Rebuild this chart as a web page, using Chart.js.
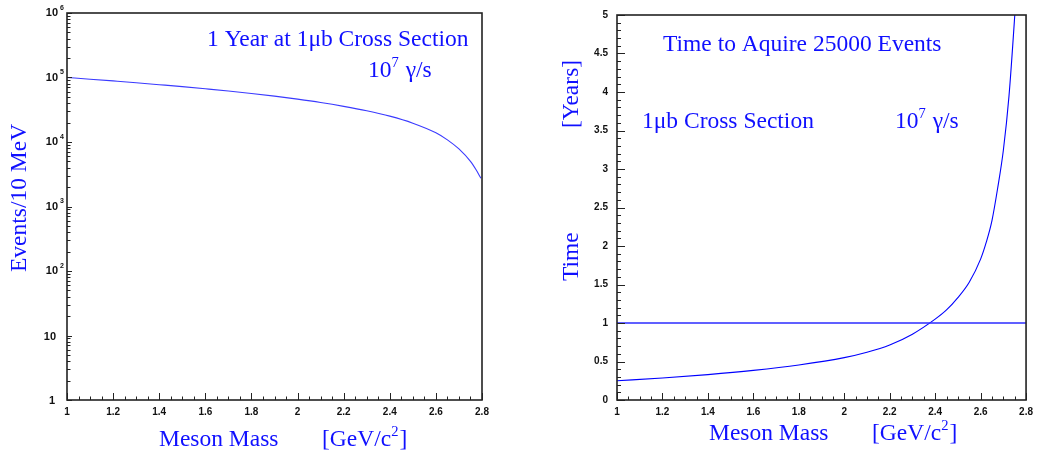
<!DOCTYPE html>
<html>
<head>
<meta charset="utf-8">
<script src="https://cdn.jsdelivr.net/npm/chart.js@4/dist/chart.umd.min.js"></script>
<style>
  html, body { margin: 0; padding: 0; background: #fff; }
  #wrap { position: relative; width: 1039px; height: 453px; }
  .pane { position: absolute; top: 0; width: 519px; height: 453px; }
</style>
</head>
<body>
<div id="wrap">
  <div class="pane" style="left:0"><canvas id="left"></canvas></div>
  <div class="pane" style="left:520px"><canvas id="right"></canvas></div>
</div>
<script>
"use strict";

// ── data ────────────────────────────────────
const massA  = [1.0, 1.1, 1.2, 1.3, 1.4, 1.5, 1.6, 1.7, 1.8, 1.9, 2.0, 2.1, 2.2, 2.3, 2.4, 2.5, 2.6, 2.65, 2.7, 2.75, 2.775, 2.795];
const events = [100000, 94200, 88500, 83000, 77400, 72100, 66800, 61700, 56500, 51400, 46200, 41000, 35700, 30500, 25200, 19600, 13900, 10800, 7800, 5000, 3670, 2750];

const massB = [1.0, 1.2, 1.4, 1.6, 1.8, 2.0, 2.1, 2.2, 2.3, 2.4, 2.45, 2.5, 2.55, 2.6, 2.625, 2.65, 2.675, 2.7, 2.725, 2.75, 2.76];
const years = [0.25, 0.285, 0.33, 0.385, 0.455, 0.55, 0.62, 0.715, 0.855, 1.05, 1.17, 1.33, 1.53, 1.83, 2.05, 2.33, 2.75, 3.24, 3.95, 4.98, 5.45];

const oneYearX = [1.0, 2.8];
const oneYearY = [1, 1];

const xTicks     = [1, 1.2, 1.4, 1.6, 1.8, 2, 2.2, 2.4, 2.6, 2.8];
const yTicksTime = [0, 0.5, 1, 1.5, 2, 2.5, 3, 3.5, 4, 4.5, 5];
const decades    = [0, 1, 2, 3, 4, 5, 6];

const BLUE  = "#1010ff";
const SERIF = "'Liberation Serif', 'DejaVu Serif', serif";
const SANS  = "'Liberation Sans', Arial, sans-serif";

function pts(xs, ys) {
  return xs.map((x, i) => ({ x: x, y: ys[i] }));
}

// text with superscripts: parts = [[text, isSup], ...]
function rich(ctx, parts, x, y, size) {
  let cx = x;
  parts.forEach(([t, sup]) => {
    const s = sup ? size * 0.62 : size;
    ctx.font = s + "px " + SERIF;
    ctx.fillText(t, cx, sup ? y - size * 0.42 : y);
    cx += ctx.measureText(t).width + (sup ? 1 : 0);
  });
  return cx - x;
}

// ── frame, inward ticks, labels ─────────────
const decor = {
  id: "decor",
  afterDraw(chart, args, o) {
    const ctx = chart.ctx, a = chart.chartArea;
    const sx = chart.scales.x, sy = chart.scales.y;
    ctx.save();

    ctx.strokeStyle = "#222";
    ctx.lineWidth = 1;
    ctx.beginPath();
    // x ticks (major 0.2, minor 0.05)
    for (let i = 0; i <= 36; i++) {
      const px = Math.round(sx.getPixelForValue(1 + i * 0.05)) + 0.5;
      const len = i % 4 === 0 ? 7 : 3.5;
      ctx.moveTo(px, a.bottom);
      ctx.lineTo(px, a.bottom - len);
    }
    // y ticks
    if (o.log) {
      decades.forEach((d) => {
        for (let m = 1; m <= 9; m++) {
          const v = m * Math.pow(10, d);
          if (v > 1e6) break;
          const py = Math.round(sy.getPixelForValue(v)) + 0.5;
          ctx.moveTo(a.left, py);
          ctx.lineTo(a.left + (m === 1 ? 5 : 3.5), py);
        }
      });
    } else {
      for (let i = 0; i <= 50; i++) {
        const py = Math.round(sy.getPixelForValue(i * 0.1)) + 0.5;
        ctx.moveTo(a.left, py);
        ctx.lineTo(a.left + (i % 5 === 0 ? 8 : 4), py);
      }
    }
    ctx.stroke();

    ctx.lineWidth = 1.6;
    ctx.strokeRect(a.left, a.top, a.right - a.left, a.bottom - a.top);

    // log labels with exponents
    if (o.log) {
      ctx.fillStyle = "#111";
      ctx.textBaseline = "middle";
      decades.forEach((d) => {
        const py = sy.getPixelForValue(Math.pow(10, d));
        ctx.font = "bold 11px " + SANS;
        ctx.textAlign = "right";
        if (d === 0) {
          ctx.fillText("1", a.left - 12, py + 1);
        } else if (d === 1) {
          ctx.fillText("10", a.left - 11, py + 1);
        } else {
          ctx.fillText("10", a.left - 9, py);
          ctx.textAlign = "left";
          ctx.font = "bold 7px " + SANS;
          ctx.fillText(String(d), a.left - 7, py - 5);
        }
      });
    }

    // annotations
    ctx.fillStyle = BLUE;
    ctx.textAlign = "left";
    ctx.textBaseline = "alphabetic";
    (o.texts || []).forEach((t) => {
      ctx.save();
      ctx.translate(t.x, t.y);
      if (t.rot) ctx.rotate(-Math.PI / 2);
      rich(ctx, t.parts, 0, 0, t.size);
      ctx.restore();
    });
    ctx.restore();
  }
};

function fixedScale(w, h) {
  return (s) => {
    if (w != null) s.width = w;
    if (h != null) s.height = h;
  };
}

function baseOptions(padRight, yLeft, yScale, decorOpts) {
  return {
    responsive: true,
    maintainAspectRatio: false,
    animation: false,
    layout: { padding: { top: 13, right: padRight, left: 0, bottom: 0 } },
    plugins: { legend: { display: false }, tooltip: { enabled: false }, decor: decorOpts },
    scales: {
      x: {
        type: "linear",
        min: 1,
        max: 2.8,
        afterBuildTicks: (s) => { s.ticks = xTicks.map((v) => ({ value: v })); },
        afterFit: fixedScale(null, 53),
        grid: { display: false, drawTicks: false },
        border: { display: false },
        ticks: {
          color: "#111",
          padding: 6,
          maxRotation: 0,
          font: { family: SANS, size: 10, weight: "bold" },
          callback: (v) => String(Math.round(v * 10) / 10)
        }
      },
      y: Object.assign({
        afterFit: fixedScale(yLeft, null),
        grid: { display: false, drawTicks: false },
        border: { display: false }
      }, yScale)
    }
  };
}

// ── left: events per 10 MeV ─────────────────
new Chart(document.getElementById("left"), {
  type: "scatter",
  data: {
    datasets: [{
      data: pts(massA, events),
      showLine: true,
      borderColor: "#3a3aff",
      borderWidth: 1.1,
      pointRadius: 0,
      cubicInterpolationMode: "monotone"
    }]
  },
  options: baseOptions(37, 67, {
    type: "logarithmic",
    min: 1,
    max: 1e6,
    ticks: { display: false }
  }, {
    log: true,
    texts: [
      { x: 207, y: 46, size: 23.5, parts: [["1 Year at 1\u03bcb Cross Section", false]] },
      { x: 368, y: 77, size: 23.5, parts: [["10", false], ["7", true], [" \u03b3/s", false]] },
      { x: 159, y: 446, size: 23.5, parts: [["Meson Mass", false]] },
      { x: 322, y: 446, size: 23.5, parts: [["[GeV/c", false], ["2", true], ["]", false]] },
      { x: 26, y: 272, size: 23.5, rot: true, parts: [["Events/10 MeV", false]] }
    ]
  }),
  plugins: [decor]
});

// ── right: time to acquire 25000 events ─────
new Chart(document.getElementById("right"), {
  type: "scatter",
  data: {
    datasets: [
      {
        data: pts(oneYearX, oneYearY),
        showLine: true,
        borderColor: "#2b2bff",
        borderWidth: 1.4,
        pointRadius: 0
      },
      {
        data: pts(massB, years),
        showLine: true,
        borderColor: "#0000ff",
        borderWidth: 1.1,
        pointRadius: 0,
        cubicInterpolationMode: "monotone"
      }
    ]
  },
  options: baseOptions(7, 97, {
    type: "linear",
    min: 0,
    max: 5,
    afterBuildTicks: (s) => { s.ticks = yTicksTime.map((v) => ({ value: v })); },
    ticks: {
      color: "#111",
      padding: 9,
      font: { family: SANS, size: 10, weight: "bold" },
      callback: (v) => String(v)
    }
  }, {
    log: false,
    texts: [
      { x: 143, y: 51, size: 23.5, parts: [["Time to Aquire 25000 Events", false]] },
      { x: 122, y: 128, size: 23.5, parts: [["1\u03bcb Cross Section", false]] },
      { x: 375, y: 128, size: 23.5, parts: [["10", false], ["7", true], [" \u03b3/s", false]] },
      { x: 189, y: 440, size: 23.5, parts: [["Meson Mass", false]] },
      { x: 352, y: 440, size: 23.5, parts: [["[GeV/c", false], ["2", true], ["]", false]] },
      { x: 58, y: 128, size: 23.5, rot: true, parts: [["[Years]", false]] },
      { x: 58, y: 281, size: 23.5, rot: true, parts: [["Time", false]] }
    ]
  }),
  plugins: [decor]
});
</script>
</body>
</html>
